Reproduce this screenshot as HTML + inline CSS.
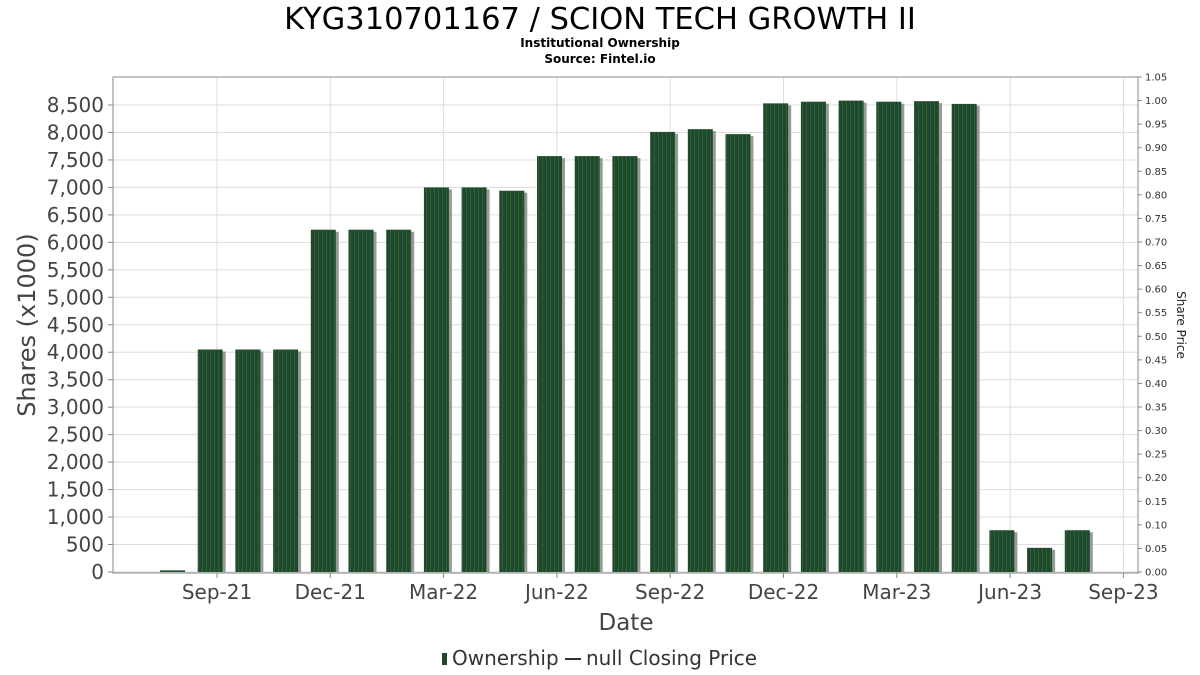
<!DOCTYPE html>
<html><head><meta charset="utf-8"><style>
body{margin:0;background:#fff;width:1200px;height:675px;overflow:hidden}
svg{display:block;font-family:"DejaVu Sans","Liberation Sans",sans-serif}
</style></head><body>
<svg id="chart" width="1200" height="675" viewBox="0 0 1200 675">
<defs>
<pattern id="stripes" width="4" height="10" patternUnits="userSpaceOnUse">
<rect width="4" height="10" fill="#1e4a2b"/><rect x="2" width="1" height="10" fill="#2f5e3a"/>
</pattern>
</defs>
<text x="600" y="29" text-anchor="middle" font-size="30.5" fill="#000">KYG310701167 / SCION TECH GROWTH II</text>
<text x="600" y="47" text-anchor="middle" font-size="12" font-weight="bold" fill="#000">Institutional Ownership</text>
<text x="600" y="63" text-anchor="middle" font-size="12" font-weight="bold" fill="#000">Source: Fintel.io</text>
<g id="grid"></g>
<g id="bars"></g>
<rect x="113" y="77" width="1025" height="496" fill="none" stroke="#888"/>
<g id="axes"></g>
<text transform="translate(35,325) rotate(-90)" text-anchor="middle" font-size="24" fill="#444">Shares (x1000)</text>
<text transform="translate(1177,325) rotate(90)" text-anchor="middle" font-size="12" fill="#222">Share Price</text>
<text x="626" y="630" text-anchor="middle" font-size="23" fill="#444">Date</text>
<g>
<rect x="442" y="653" width="5" height="12" fill="#1e4a2b"/>
<text x="452" y="665" font-size="20" fill="#333">Ownership</text>
<line x1="565" y1="659" x2="581" y2="659" stroke="#333" stroke-width="2"/>
<text x="586" y="665" font-size="20" fill="#333">null Closing Price</text>
</g>
</svg>
<script>
const values=[30,4050,4050,4050,6230,6230,6230,7000,7000,6940,7570,7570,7570,8010,8060,7970,8530,8560,8580,8560,8570,8520,760,440,760];
const yTicks=[0,500,1000,1500,2000,2500,3000,3500,4000,4500,5000,5500,6000,6500,7000,7500,8000,8500];
const y2Ticks=[0,0.05,0.1,0.15,0.2,0.25,0.3,0.35,0.4,0.45,0.5,0.55,0.6,0.65,0.7,0.75,0.8,0.85,0.9,0.95,1.0,1.05];
const xLabels=["Sep-21","Dec-21","Mar-22","Jun-22","Sep-22","Dec-22","Mar-23","Jun-23","Sep-23"];
const NS="http://www.w3.org/2000/svg";
const L=113,R=1138,T=77,B=572;
const y=v=>B-v*(B-105)/8500;
const y2=v=>B-v*(B-T)/1.05;
const xBar=i=>160+i*37.7;
const xTick=i=>217+i*113.3;
function mk(tag,attrs,parent){const e=document.createElementNS(NS,tag);for(const k in attrs)e.setAttribute(k,attrs[k]);parent.appendChild(e);return e;}
const grid=document.getElementById('grid'),axes=document.getElementById('axes'),bars=document.getElementById('bars');
yTicks.forEach(v=>{
 const l=mk('line',{x1:L,x2:R,y1:y(v),y2:y(v),stroke:'#ddd'},grid);
 
 
 const t=mk('line',{x1:L-5,x2:L,y1:y(v),y2:y(v),stroke:'#888'},axes);
 
 
 const tx=mk('text',{x:L-9,y:y(v)+7,'text-anchor':'end','font-size':20,fill:'#444'},axes);
 tx.textContent=v.toLocaleString('en-US');
 
 
});
y2Ticks.forEach(v=>{
 const t=mk('line',{x1:R,x2:R+4,y1:y2(v),y2:y2(v),stroke:'#888'},axes);
 
 
 const tx=mk('text',{x:R+7,y:y2(v)+3.5,'font-size':10,fill:'#333'},axes);
 tx.textContent=v.toFixed(2);
 
 
});
xLabels.forEach((s,i)=>{
 const x=xTick(i);
 const g=mk('line',{x1:x,x2:x,y1:T,y2:B,stroke:'#ddd'},grid);
 
 
 const t=mk('line',{x1:x,x2:x,y1:B+1,y2:B+6,stroke:'#888'},axes);
 
 
 const tx=mk('text',{x:x,y:599,'text-anchor':'middle','font-size':20,fill:'#444'},axes);
 tx.textContent=s;
 
 
});
values.forEach((v,i)=>{
 const x=xBar(i),top=y(v),h=B-top;
 const sh=mk('rect',{x:x+2,y:top+2,width:26,height:Math.max(h-2,0),fill:'#999'},bars);
 
 
 const b=mk('rect',{x:x,y:top,width:25,height:h,fill:'url(#stripes)'},bars);
 
 
});
</script>
</body></html>
